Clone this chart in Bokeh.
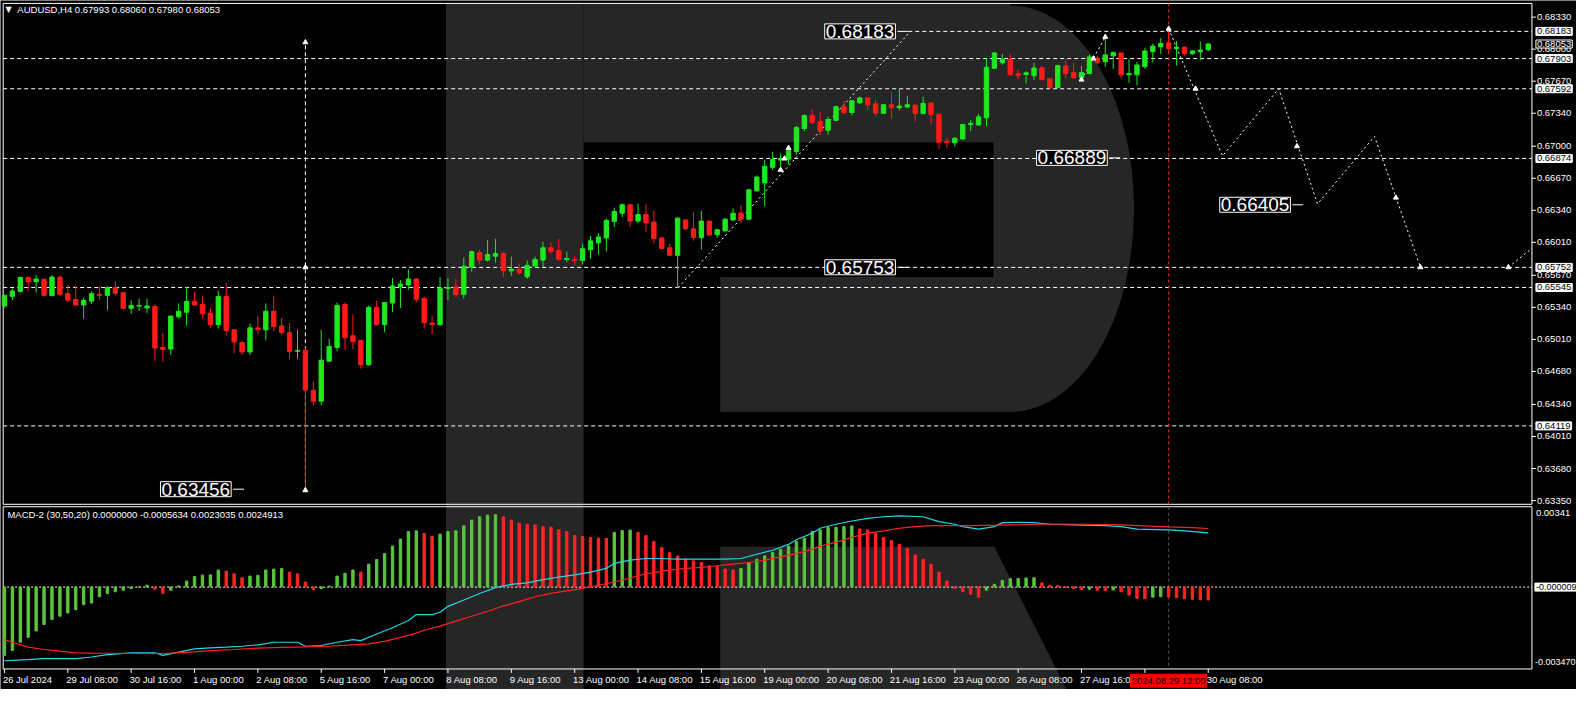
import numpy as np
from bokeh.plotting import figure
from bokeh.models import Range1d, Label, ColumnDataSource
from bokeh.core.properties import value
from bokeh.embed import file_html
from bokeh.resources import INLINE

# ---------------- data ----------------
symbol_header = "AUDUSD,H4  0.67993 0.68060 0.67980 0.68053"
macd_header = "MACD-2 (30,50,20) 0.0000000 -0.0005634 0.0023035 0.0024913"

opens = [0.65354, 0.65454, 0.65505, 0.65649, 0.65605, 0.65629, 0.65461, 0.65652, 0.65481, 0.65421,
         0.65364, 0.65404, 0.65475, 0.65464, 0.65542, 0.65491, 0.65330, 0.65354, 0.65334, 0.65350,
         0.64928, 0.64911, 0.65243, 0.65290, 0.65401, 0.65371, 0.65280, 0.65162, 0.65451, 0.65109,
         0.64978, 0.64881, 0.65129, 0.65109, 0.65300, 0.65149, 0.65079, 0.64887, 0.64897, 0.64485,
         0.64374, 0.64786, 0.64927, 0.65370, 0.65048, 0.64998, 0.64749, 0.65340, 0.65162, 0.65384,
         0.65555, 0.65571, 0.65632, 0.65431, 0.65179, 0.65162, 0.65535, 0.65551, 0.65474, 0.65756,
         0.65904, 0.65827, 0.65867, 0.65894, 0.65716, 0.65733, 0.65655, 0.65766, 0.65827, 0.65954,
         0.65924, 0.65833, 0.65833, 0.65823, 0.65934, 0.66005, 0.66055, 0.66226, 0.66310, 0.66397,
         0.66229, 0.66296, 0.66219, 0.66055, 0.65954, 0.65877, 0.66240, 0.66149, 0.66058, 0.66229,
         0.66088, 0.66128, 0.66240, 0.66310, 0.66249, 0.66541, 0.66622, 0.66783, 0.66857, 0.66867,
         0.66944, 0.67182, 0.67317, 0.67256, 0.67165, 0.67266, 0.67407, 0.67347, 0.67447, 0.67498,
         0.67437, 0.67340, 0.67427, 0.67397, 0.67404, 0.67424, 0.67337, 0.67444, 0.67330, 0.67051,
         0.67035, 0.67075, 0.67223, 0.67219, 0.67293, 0.67803, 0.67860, 0.67894, 0.67746, 0.67739,
         0.67726, 0.67806, 0.67696, 0.67605, 0.67827, 0.67759, 0.67706, 0.67749, 0.67907, 0.67870,
         0.67931, 0.67961, 0.67736, 0.67736, 0.67820, 0.67974, 0.68025, 0.68065, 0.68004, 0.68021,
         0.67954, 0.67974, 0.67993]
highs = [0.65470, 0.65535, 0.65656, 0.65652, 0.65673, 0.65632, 0.65673, 0.65669, 0.65572, 0.65562,
         0.65441, 0.65505, 0.65558, 0.65558, 0.65612, 0.65495, 0.65411, 0.65431, 0.65431, 0.65371,
         0.65079, 0.65255, 0.65381, 0.65552, 0.65501, 0.65461, 0.65337, 0.65511, 0.65592, 0.65112,
         0.64998, 0.65173, 0.65253, 0.65381, 0.65461, 0.65230, 0.65179, 0.65109, 0.64924, 0.64575,
         0.65108, 0.65018, 0.65390, 0.65390, 0.65269, 0.65000, 0.65360, 0.65410, 0.65395, 0.65642,
         0.65622, 0.65732, 0.65642, 0.65451, 0.65249, 0.65652, 0.65642, 0.65632, 0.65853, 0.65924,
         0.65934, 0.66035, 0.66045, 0.65914, 0.65863, 0.65793, 0.65823, 0.65863, 0.66015, 0.66015,
         0.66045, 0.65914, 0.65874, 0.65994, 0.66075, 0.66105, 0.66256, 0.66367, 0.66410, 0.66400,
         0.66407, 0.66407, 0.66337, 0.66068, 0.65998, 0.66269, 0.66249, 0.66327, 0.66337, 0.66232,
         0.66149, 0.66259, 0.66360, 0.66394, 0.66561, 0.66699, 0.66863, 0.66941, 0.66924, 0.66974,
         0.67212, 0.67327, 0.67377, 0.67347, 0.67306, 0.67417, 0.67468, 0.67478, 0.67511, 0.67500,
         0.67481, 0.67437, 0.67558, 0.67598, 0.67518, 0.67430, 0.67511, 0.67450, 0.67335, 0.67085,
         0.67092, 0.67228, 0.67269, 0.67333, 0.67904, 0.67971, 0.67951, 0.67951, 0.67790, 0.67773,
         0.67857, 0.67827, 0.67700, 0.67840, 0.67897, 0.67860, 0.67827, 0.67947, 0.67931, 0.68108,
         0.67978, 0.67965, 0.67897, 0.67870, 0.68011, 0.68058, 0.68115, 0.68183, 0.68085, 0.68025,
         0.67991, 0.68078, 0.68060]
lows = [0.65337, 0.65414, 0.65491, 0.65505, 0.65491, 0.65460, 0.65454, 0.65454, 0.65391, 0.65360,
        0.65223, 0.65374, 0.65414, 0.65313, 0.65464, 0.65324, 0.65273, 0.65303, 0.65280, 0.64790,
        0.64780, 0.64850, 0.65223, 0.65152, 0.65360, 0.65223, 0.65129, 0.65122, 0.65052, 0.64871,
        0.64850, 0.64850, 0.65062, 0.65001, 0.65092, 0.65052, 0.64810, 0.64810, 0.63456, 0.64334,
        0.64330, 0.64776, 0.64890, 0.64900, 0.64910, 0.64709, 0.64739, 0.65152, 0.65082, 0.65293,
        0.65333, 0.65521, 0.65394, 0.65122, 0.65061, 0.65152, 0.65414, 0.65444, 0.65431, 0.65706,
        0.65783, 0.65813, 0.65803, 0.65655, 0.65665, 0.65676, 0.65632, 0.65756, 0.65756, 0.65887,
        0.65817, 0.65803, 0.65773, 0.65783, 0.65843, 0.65884, 0.65914, 0.66166, 0.66269, 0.66169,
        0.66209, 0.66118, 0.65998, 0.65937, 0.65874, 0.65538, 0.66139, 0.66028, 0.65937, 0.66075,
        0.66058, 0.66118, 0.66229, 0.66209, 0.66240, 0.66531, 0.66380, 0.66753, 0.66733, 0.66813,
        0.66914, 0.67155, 0.67226, 0.67115, 0.67115, 0.67256, 0.67327, 0.67317, 0.67437, 0.67377,
        0.67306, 0.67333, 0.67286, 0.67367, 0.67394, 0.67253, 0.67327, 0.67223, 0.66974, 0.66984,
        0.66998, 0.67065, 0.67155, 0.67209, 0.67209, 0.67796, 0.67840, 0.67729, 0.67689, 0.67645,
        0.67679, 0.67676, 0.67595, 0.67598, 0.67696, 0.67696, 0.67662, 0.67739, 0.67850, 0.67820,
        0.67796, 0.67696, 0.67652, 0.67629, 0.67796, 0.67863, 0.67951, 0.67961, 0.67830, 0.67931,
        0.67941, 0.67884, 0.67980]
closes = [0.65464, 0.65508, 0.65649, 0.65605, 0.65632, 0.65464, 0.65652, 0.65475, 0.65414, 0.65364,
          0.65411, 0.65481, 0.65464, 0.65542, 0.65485, 0.65330, 0.65360, 0.65360, 0.65354, 0.64921,
          0.64907, 0.65250, 0.65300, 0.65401, 0.65364, 0.65273, 0.65162, 0.65451, 0.65102, 0.64985,
          0.64881, 0.65129, 0.65109, 0.65300, 0.65142, 0.65082, 0.64887, 0.64897, 0.64488, 0.64374,
          0.64796, 0.64937, 0.65360, 0.65028, 0.64988, 0.64749, 0.65340, 0.65162, 0.65390, 0.65561,
          0.65581, 0.65632, 0.65424, 0.65182, 0.65162, 0.65538, 0.65545, 0.65471, 0.65763, 0.65914,
          0.65827, 0.65884, 0.65894, 0.65716, 0.65733, 0.65696, 0.65773, 0.65833, 0.65954, 0.65917,
          0.65837, 0.65843, 0.65823, 0.65944, 0.66025, 0.66065, 0.66236, 0.66327, 0.66397, 0.66229,
          0.66296, 0.66209, 0.66048, 0.65947, 0.65877, 0.66259, 0.66149, 0.66058, 0.66229, 0.66085,
          0.66139, 0.66249, 0.66310, 0.66249, 0.66551, 0.66682, 0.66793, 0.66863, 0.66873, 0.66954,
          0.67192, 0.67317, 0.67246, 0.67162, 0.67276, 0.67407, 0.67347, 0.67468, 0.67498, 0.67427,
          0.67340, 0.67427, 0.67397, 0.67414, 0.67427, 0.67337, 0.67441, 0.67327, 0.67041, 0.67038,
          0.67082, 0.67223, 0.67236, 0.67303, 0.67813, 0.67961, 0.67894, 0.67736, 0.67726, 0.67756,
          0.67806, 0.67686, 0.67605, 0.67830, 0.67749, 0.67706, 0.67759, 0.67920, 0.67860, 0.67941,
          0.67964, 0.67736, 0.67749, 0.67837, 0.67981, 0.68031, 0.68058, 0.68004, 0.68021, 0.67954,
          0.67981, 0.67991, 0.68053]

macd_hist = [-0.00292, -0.00271, -0.00236, -0.00215, -0.00188, -0.00160, -0.00139, -0.00125, -0.00111, -0.00097,
             -0.00076, -0.00069, -0.00042, -0.00028, -0.00021, -0.00014, -0.00007, -0.00001, 0.00007, -0.00010,
             -0.00028, -0.00014, 0.00004, 0.00025, 0.00044, 0.00050, 0.00051, 0.00072, 0.00067, 0.00056,
             0.00039, 0.00046, 0.00049, 0.00072, 0.00076, 0.00078, 0.00063, 0.00056, 0.00021, -0.00011,
             -0.00007, 0.00003, 0.00046, 0.00058, 0.00072, 0.00063, 0.00097, 0.00117, 0.00142, 0.00174,
             0.00204, 0.00236, 0.00239, 0.00228, 0.00215, 0.00225, 0.00236, 0.00239, 0.00260, 0.00285,
             0.00299, 0.00306, 0.00308, 0.00299, 0.00285, 0.00271, 0.00267, 0.00264, 0.00257, 0.00254,
             0.00243, 0.00236, 0.00219, 0.00215, 0.00211, 0.00208, 0.00206, 0.00232, 0.00240, 0.00242,
             0.00232, 0.00219, 0.00194, 0.00167, 0.00146, 0.00132, 0.00118, 0.00111, 0.00104, 0.00090,
             0.00088, 0.00076, 0.00072, 0.00078, 0.00104, 0.00118, 0.00132, 0.00146, 0.00160, 0.00174,
             0.00194, 0.00208, 0.00236, 0.00243, 0.00253, 0.00254, 0.00257, 0.00260, 0.00247, 0.00243,
             0.00229, 0.00211, 0.00197, 0.00181, 0.00164, 0.00136, 0.00118, 0.00097, 0.00063, 0.00025,
             -0.00007, -0.00021, -0.00031, -0.00044, -0.00014, 0.00011, 0.00028, 0.00035, 0.00036, 0.00038,
             0.00039, 0.00017, 0.00007, 0.00006, -0.00003, -0.00007, -0.00011, -0.00010, -0.00014, -0.00015,
             -0.00013, -0.00021, -0.00035, -0.00049, -0.00050, -0.00044, -0.00042, -0.00043, -0.00046, -0.00050,
             -0.00053, -0.00055, -0.00056]

macd_line_idx = [0, 1, 3, 5, 9, 11, 13, 16, 19, 20, 22, 24, 26, 28, 30, 32, 34, 37, 38, 40, 42, 44, 45, 47,
                 49, 51, 52, 54, 55, 56, 58, 60, 62, 64, 66, 68, 70, 72, 74, 76, 77, 79, 81, 83, 85, 88, 91,
                 93, 95, 97, 99, 100, 102, 103, 105, 107, 109, 111, 113, 116, 118, 120, 121, 123, 125, 126,
                 128, 130, 132, 135, 139, 141, 143, 147, 149, 152]
macd_line_val = [-0.00315, -0.00313, -0.00310, -0.00306, -0.00306, -0.00299, -0.00289, -0.00281, -0.00281,
                 -0.00292, -0.00278, -0.00264, -0.00260, -0.00257, -0.00253, -0.00247, -0.00236, -0.00236,
                 -0.00253, -0.00250, -0.00236, -0.00225, -0.00229, -0.00201, -0.00174, -0.00143, -0.00118,
                 -0.00118, -0.00108, -0.00083, -0.00056, -0.00028, -0.00003, 0.00011, 0.00017, 0.00031,
                 0.00042, 0.00051, 0.00063, 0.00079, 0.00100, 0.00114, 0.00121, 0.00121, 0.00118, 0.00118,
                 0.00118, 0.00121, 0.00139, 0.00156, 0.00181, 0.00201, 0.00229, 0.00250, 0.00267, 0.00281,
                 0.00292, 0.00299, 0.00303, 0.00299, 0.00278, 0.00267, 0.00257, 0.00246, 0.00257, 0.00274,
                 0.00275, 0.00274, 0.00267, 0.00264, 0.00261, 0.00257, 0.00246, 0.00243, 0.00239, 0.00230]
signal_idx = [0, 1, 3, 5, 7, 9, 11, 14, 19, 23, 26, 29, 32, 35, 38, 41, 44, 46, 48, 50, 52, 53, 55, 57, 59,
              61, 63, 65, 67, 69, 71, 73, 75, 77, 79, 81, 83, 85, 88, 90, 92, 94, 96, 98, 100, 102, 103,
              105, 107, 109, 111, 113, 115, 117, 122, 127, 132, 137, 141, 144, 147, 150, 152]
signal_val = [-0.00225, -0.00236, -0.00257, -0.00267, -0.00274, -0.00281, -0.00282, -0.00283, -0.00285,
              -0.00279, -0.00272, -0.00267, -0.00261, -0.00258, -0.00256, -0.00253, -0.00247, -0.00243,
              -0.00232, -0.00215, -0.00197, -0.00185, -0.00167, -0.00146, -0.00125, -0.00104, -0.00081,
              -0.00063, -0.00042, -0.00028, -0.00017, -0.00006, 0.00007, 0.00021, 0.00038, 0.00056,
              0.00067, 0.00076, 0.00083, 0.00090, 0.00097, 0.00104, 0.00114, 0.00128, 0.00142, 0.00160,
              0.00174, 0.00190, 0.00211, 0.00229, 0.00239, 0.00250, 0.00257, 0.00261, 0.00261, 0.00264,
              0.00268, 0.00267, 0.00264, 0.00260, 0.00256, 0.00253, 0.00249]

time_labels = ["26 Jul 2024", "29 Jul 08:00", "30 Jul 16:00", "1 Aug 00:00", "2 Aug 08:00",
               "5 Aug 16:00", "7 Aug 00:00", "8 Aug 08:00", "9 Aug 16:00", "13 Aug 00:00",
               "14 Aug 08:00", "15 Aug 16:00", "19 Aug 00:00", "20 Aug 08:00", "21 Aug 16:00",
               "23 Aug 00:00", "26 Aug 08:00", "27 Aug 16:00", "29 Aug 00:00", "30 Aug 08:00"]
bars_per_label = 8
cursor_bar = 147
cursor_label = "2024.08.29 12:00"

price_ticks = [0.63350, 0.63680, 0.64010, 0.64340, 0.64680, 0.65010, 0.65340, 0.65670,
               0.66010, 0.66340, 0.66670, 0.67000, 0.67340, 0.67670, 0.68000, 0.68330]
full_levels = [0.67903, 0.67592, 0.66874, 0.65752, 0.65545, 0.64119]
ray_level = 0.68183
axis_boxes = [0.68183, 0.67903, 0.67592, 0.66874, 0.65752, 0.65545, 0.64119]
bid_price = 0.68053
macd_zero = -0.000009
macd_top_value, macd_bottom_value = "0.00341", "-0.003470"

vline_bar = 38
vline_y = [0.63456, 0.68070]
diag_x, diag_y = [85.1, 114.4], [0.65545, 0.68183]
mini_x, mini_y = [136.0, 139.0], [0.67686, 0.68126]
fc_x = [147.0, 153.8, 160.9, 165.8, 173.0, 178.8]
fc_y = [0.68210, 0.66900, 0.67592, 0.66405, 0.67101, 0.65753]
fc2_x, fc2_y = [189.9, 192.9], [0.65753, 0.65950]
mark_x = [38, 38, 38, 98.0, 98.5, 99.0, 136.0, 137.5, 139.0, 147.0, 150.4, 163.2, 175.7, 178.8, 189.9]
mark_y = [0.68070, 0.65753, 0.63456, 0.66757, 0.66873, 0.66981, 0.67686, 0.67903, 0.68126, 0.68210,
          0.67592, 0.66999, 0.66470, 0.65753, 0.65753]
big_labels = ["0.68183", "0.65753", "0.66889", "0.66405", "0.63456"]
big_label_y = [0.68183, 0.65753, 0.66880, 0.66397, 0.63467]

# ---------------- geometry (reference pixels -> data) ----------------
def rx(px):          # horizontal pixel of the reference -> bar index
    return (px - 4) / 8.0

def ry(py):          # vertical pixel of the reference -> price
    return 0.6833 - (py - 17) / 9933.0

def my(py):          # vertical pixel of the reference -> MACD value
    return (600 - py) / 24000.0

big_label_right_px = [906, 906, 1120, 1305, 235]
L_PX, R_PX = 2.7, 1547       # panel left / right edges
MT, MB = 3, 515.5            # main panel top / bottom
ST, SB = 518, 684            # indicator panel top / bottom

BULL, BEAR = "#1ee81e", "#ff1a1a"
HGREEN, HRED = "#5bc43c", "#ff2424"
WM = "#262626"
FONT = "Liberation Sans"
FS = "9.5px"

p = figure(width=1576, height=689, x_range=Range1d(rx(0), rx(1592)), y_range=Range1d(ry(705), ry(0)),
           min_border=0, toolbar_location=None, x_axis_location=None, y_axis_location=None,
           output_backend="svg", background_fill_color="black", border_fill_color="black",
           outline_line_color=None)
p.grid.visible = False
p.extra_y_ranges = {"macd": Range1d(my(705), my(0))}

# ---- watermark "R" ----
p.quad(left=rx(450), right=rx(589), top=ry(3), bottom=ry(705), fill_color=WM, line_color=None)
t = np.linspace(-np.pi / 2, np.pi / 2, 60)
arc_px = list(zip(1020 + 125 * np.cos(t), 213 + 208 * np.sin(t)))
bowl = [(589, 3), (1020, 3)] + arc_px + [(727, 421), (727, 283), (1003, 283), (1003, 145), (589, 145)]
p.patch([rx(a) for a, b in bowl], [ry(b) for a, b in bowl], fill_color=WM, line_color=None)
leg = [(727, 559), (1004, 559), (1077, 705), (727, 705)]
p.patch([rx(a) for a, b in leg], [ry(b) for a, b in leg], fill_color=WM, line_color=None)

# ---- panel frames ----
for top, bot in ((MT, MB), (ST, SB)):
    p.quad(left=rx(L_PX), right=rx(R_PX), top=ry(top), bottom=ry(bot), fill_color=None,
           line_color="white", line_width=1)

# ---- level lines and drawings ----
xl, xr = rx(L_PX), rx(R_PX)
p.segment(x0=[xl] * len(full_levels), y0=full_levels, x1=[xr] * len(full_levels), y1=full_levels,
          line_color="white", line_dash="4 3", line_width=1)
p.line([rx(917), xr], [ray_level, ray_level], line_color="white", line_dash="4 3", line_width=1)
p.line([cursor_bar, cursor_bar], [ry(MT), ry(MB)], line_color="#ff2020", line_dash="3 3", line_width=1)
p.line([cursor_bar, cursor_bar], [my(ST), my(SB)], y_range_name="macd", line_color="#555555",
       line_dash="3 3", line_width=1)
p.line([vline_bar, vline_bar], vline_y, line_color="white", line_dash="4 3", line_width=1)
p.line(diag_x, diag_y, line_color="white", line_dash="2 3", line_width=1)
p.line(mini_x, mini_y, line_color="white", line_dash="2 3", line_width=1)
p.line(fc_x, fc_y, line_color="white", line_dash="2 3", line_width=1)
p.line(fc2_x, fc2_y, line_color="white", line_dash="2 3", line_width=1)

# ---- candles ----
idx = list(range(len(opens)))
colors = [BULL if c >= o else BEAR for o, c in zip(opens, closes)]
src = ColumnDataSource(dict(x=idx, h=highs, l=lows,
                            top=[max(o, c) for o, c in zip(opens, closes)],
                            bot=[min(o, c) for o, c in zip(opens, closes)], col=colors))
p.segment(x0="x", y0="l", x1="x", y1="h", color="col", line_width=1, source=src)
p.vbar(x="x", top="top", bottom="bot", width=0.55, fill_color="col", line_color="col", line_width=1, source=src)
p.scatter(mark_x, mark_y, marker="triangle", size=5, fill_color="white", line_color="white")

# ---- MACD panel ----
p.line([xl, xr], [macd_zero, macd_zero], y_range_name="macd", line_color="white", line_dash="2 2", line_width=1)
hcol = [HGREEN if (i == 0 or macd_hist[i] > macd_hist[i - 1]) else HRED for i in range(len(macd_hist))]
p.vbar(x=list(range(len(macd_hist))), top=macd_hist, bottom=0, width=0.3, y_range_name="macd",
       fill_color=hcol, line_color=hcol)
p.line(macd_line_idx, macd_line_val, y_range_name="macd", line_color="#1fd8e6", line_width=1.2)
p.line(signal_idx, signal_val, y_range_name="macd", line_color="#ff2020", line_width=1.2)

# ---- right price scale ----
p.segment(x0=[xr] * len(price_ticks), y0=price_ticks, x1=[rx(R_PX + 4)] * len(price_ticks), y1=price_ticks,
          line_color="white", line_width=1)
p.text(x=[rx(R_PX + 5)] * len(price_ticks), y=price_ticks, text=[f"{v:.5f}" for v in price_ticks],
       text_font=value(FONT), text_font_size=value(FS), text_color="white",
       text_align="left", text_baseline="middle")

# ---- time scale ----
tick_bars = [k * bars_per_label for k in range(len(time_labels))]
p.segment(x0=tick_bars, y0=[my(SB)] * len(tick_bars), x1=tick_bars, y1=[my(SB + 4)] * len(tick_bars),
          y_range_name="macd", line_color="white", line_width=1)
p.text(x=[b - 0.2 for b in tick_bars], y=[my(SB + 5)] * len(tick_bars), text=time_labels,
       y_range_name="macd", text_font=value(FONT), text_font_size=value(FS), text_color="white",
       text_align="left", text_baseline="top")

# ---- headers ----
p.add_layout(Label(x=rx(5), y=ry(9), text="▼", text_font="DejaVu Sans", text_font_size="8px",
                   text_color="white", text_align="left", text_baseline="middle"))
p.add_layout(Label(x=rx(17), y=ry(9), text=symbol_header, text_font=FONT, text_font_size=FS,
                   text_color="white", text_align="left", text_baseline="middle"))
p.add_layout(Label(x=rx(7), y=my(526), y_range_name="macd", text=macd_header, text_font=FONT,
                   text_font_size=FS, text_color="white", text_align="left", text_baseline="middle"))

# ---- big price labels ----
for txt, yv, rpx in zip(big_labels, big_label_y, big_label_right_px):
    p.add_layout(Label(x=rx(rpx - 2), y=yv, text=txt, text_font=FONT, text_font_size="19px",
                       text_color="white", text_align="right", text_baseline="middle",
                       background_fill_color="black", border_line_color="white", border_line_width=1,
                       padding=1))
    p.line([rx(rpx), rx(rpx + 11)], [yv, yv], line_color="white", line_width=1)

# ---- boxes on the price scale ----
for v in axis_boxes:
    p.add_layout(Label(x=rx(R_PX + 4), y=v, text=f"{v:.5f}", text_font=FONT, text_font_size=FS,
                       text_color="black", text_align="left", text_baseline="middle",
                       background_fill_color="white", border_line_color="white", padding=1))
p.add_layout(Label(x=rx(R_PX + 4), y=bid_price, text=f"{bid_price:.5f}", text_font=FONT, text_font_size=FS,
                   text_color="white", text_align="left", text_baseline="middle",
                   background_fill_color="black", border_line_color="white", padding=1))

# ---- indicator scale ----
p.add_layout(Label(x=rx(R_PX + 4), y=my(524), y_range_name="macd", text=macd_top_value, text_font=FONT,
                   text_font_size=FS, text_color="white", text_align="left", text_baseline="middle"))
p.add_layout(Label(x=rx(R_PX + 3), y=my(677), y_range_name="macd", text=macd_bottom_value, text_font=FONT,
                   text_font_size="9px", text_color="white", text_align="left", text_baseline="middle"))
p.add_layout(Label(x=rx(R_PX + 3), y=macd_zero, y_range_name="macd", text="-0.000009", text_font=FONT,
                   text_font_size="9px", text_color="black", text_align="left", text_baseline="middle",
                   background_fill_color="white", border_line_color="white", padding=1))

# ---- cursor time label ----
p.add_layout(Label(x=cursor_bar, y=my(696), y_range_name="macd", text=cursor_label, text_font=FONT,
                   text_font_size=FS, text_color="black", text_align="center", text_baseline="middle",
                   background_fill_color="#ff0000", border_line_color="#ff0000", padding=1))

open("out.html", "w").write(file_html(p, INLINE))
